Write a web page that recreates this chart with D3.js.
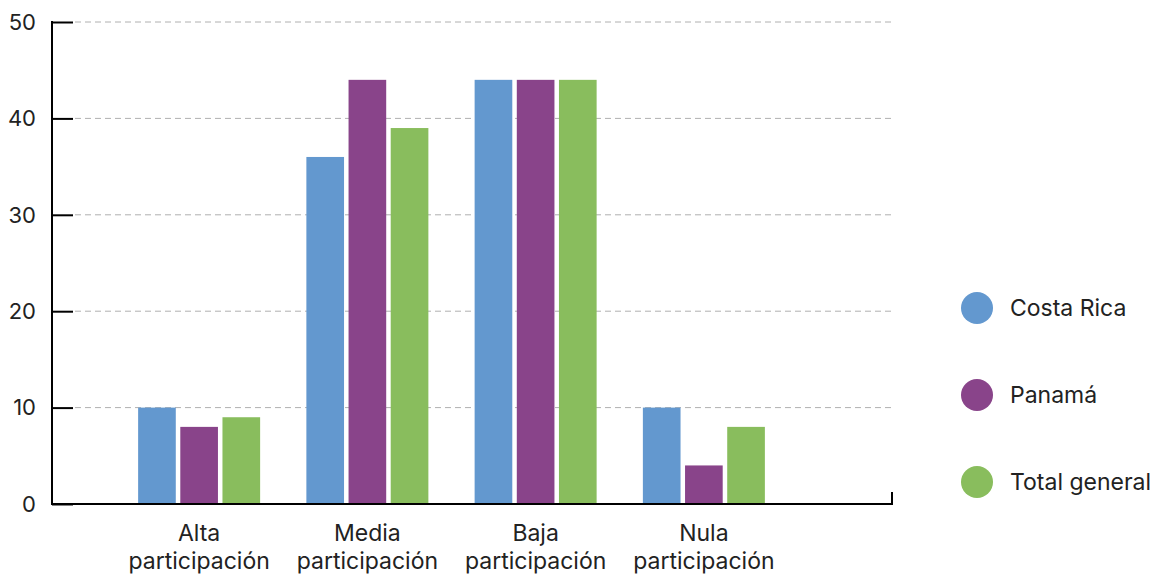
<!DOCTYPE html>
<html>
<head>
<meta charset="utf-8">
<script src="https://cdn.jsdelivr.net/npm/d3@7"></script>
<style>
  body { margin: 0; background: #fff; }
  svg { font-family: Inter, "Noto Sans", sans-serif; }
  .tick-label { font-size: 22px; fill: #222; }
  .cat-label { font-size: 23px; fill: #222; }
  .legend text { font-size: 23px; fill: #222; }
</style>
</head>
<body>
<svg width="1155" height="575"></svg>
<script>
// data
var categories = ['Alta participación', 'Media participación', 'Baja participación', 'Nula participación'];
var series = ['Costa Rica', 'Panamá', 'Total general'];
var costaRica = [10, 36, 44, 10];
var panama = [8, 44, 44, 4];
var totalGeneral = [9, 39, 44, 8];
var yTicks = [0, 10, 20, 30, 40, 50];
var colors = ['#6398cf', '#89448a', '#89bd5d'];

var values = [costaRica, panama, totalGeneral];
var rows = categories.map(function(c, i) {
    return { cat: c, vals: values.map(function(v, j) { return { name: series[j], value: v[i], idx: j }; }) };
});

var svg = d3.select('svg');

var yScale = d3.scaleLinear().domain([0, 50]).range([504, 22]);
var x0 = d3.scaleBand().domain(categories).range([115, 788]).padding(0);
var x1 = d3.scaleBand().domain(series).range([0, 122]).paddingInner(0.107);

// grid lines
svg.append('g').attr('class', 'grid')
    .selectAll('line')
    .data(yTicks.filter(function(d) { return d > 0; }))
    .enter().append('line')
    .attr('x1', 75).attr('x2', 892)
    .attr('y1', function(d) { return yScale(d); })
    .attr('y2', function(d) { return yScale(d); })
    .attr('stroke', '#b0b0b0')
    .attr('stroke-width', 1)
    .attr('stroke-dasharray', '6,4');

// bars
var groups = svg.selectAll('.grp')
    .data(rows)
    .enter().append('g')
    .attr('class', 'grp')
    .attr('transform', function(d) {
        return 'translate(' + (x0(d.cat) + x0.bandwidth() / 2 - 61) + ',0)';
    });

groups.selectAll('rect')
    .data(function(d) { return d.vals; })
    .enter().append('rect')
    .attr('x', function(d) { return x1(d.name); })
    .attr('width', x1.bandwidth())
    .attr('y', function(d) { return yScale(d.value); })
    .attr('height', function(d) { return yScale(0) - yScale(d.value); })
    .attr('fill', function(d) { return colors[d.idx]; });

// y axis
var yAxis = svg.append('g').attr('class', 'y axis')
    .attr('transform', 'translate(52,0)')
    .call(d3.axisRight(yScale).tickValues(yTicks).tickSize(21).tickFormat(''));
yAxis.select('.domain').remove();
yAxis.selectAll('line').attr('stroke', '#000').attr('stroke-width', 2);
svg.append('line')
    .attr('x1', 52).attr('x2', 52)
    .attr('y1', yScale(50) - 1).attr('y2', yScale(0) + 1)
    .attr('stroke', '#000').attr('stroke-width', 2);

svg.append('g').selectAll('text')
    .data(yTicks)
    .enter().append('text')
    .attr('class', 'tick-label')
    .attr('x', 36)
    .attr('y', function(d) { return yScale(d); })
    .attr('dy', '0.35em')
    .attr('text-anchor', 'end')
    .text(function(d) { return d; });

// x axis
svg.append('line')
    .attr('x1', 52).attr('x2', 893)
    .attr('y1', yScale(0)).attr('y2', yScale(0))
    .attr('stroke', '#000').attr('stroke-width', 2);
svg.append('line')
    .attr('x1', 892).attr('x2', 892)
    .attr('y1', yScale(0) - 12).attr('y2', yScale(0) + 1)
    .attr('stroke', '#000').attr('stroke-width', 2);

var catLabels = svg.append('g').selectAll('text')
    .data(categories)
    .enter().append('text')
    .attr('class', 'cat-label')
    .attr('text-anchor', 'middle')
    .attr('x', function(d) { return x0(d) + x0.bandwidth() / 2; })
    .attr('y', 541);
catLabels.each(function(d) {
    var parts = d.split(' ');
    var t = d3.select(this);
    t.append('tspan').attr('x', t.attr('x')).text(parts[0]);
    t.append('tspan').attr('x', t.attr('x')).attr('dy', 28).text(parts[1]);
});

// legend
var legend = svg.append('g').attr('class', 'legend')
    .selectAll('g')
    .data(series)
    .enter().append('g')
    .attr('transform', function(d, i) { return 'translate(977,' + (308 + i * 87) + ')'; });
legend.append('circle')
    .attr('r', 16)
    .attr('fill', function(d, i) { return colors[i]; });
legend.append('text')
    .attr('x', 33)
    .attr('dy', '0.35em')
    .text(function(d) { return d; });
</script>
</body>
</html>
